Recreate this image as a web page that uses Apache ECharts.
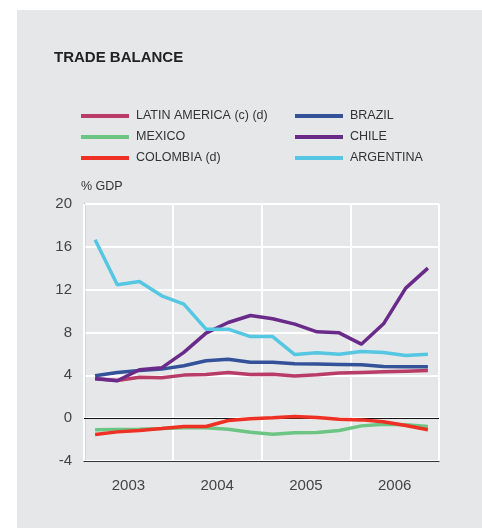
<!DOCTYPE html>
<html>
<head>
<meta charset="utf-8">
<script src="https://cdn.jsdelivr.net/npm/echarts@6/dist/echarts.min.js"></script>
<style>
  html, body { margin: 0; padding: 0; background: #ffffff; }
  #panel { position: absolute; left: 17px; top: 10px; width: 465px; height: 518px; background: #e6e7e9; }
  #chart { position: absolute; left: 0; top: 0; width: 482px; height: 528px; }
</style>
</head>
<body>
<div id="panel"></div>
<div id="chart"></div>
<script>
const years = ['2003', '2004', '2005', '2006'];
const quarters = ['2003Q1','2003Q2','2003Q3','2003Q4','2004Q1','2004Q2','2004Q3','2004Q4',
                  '2005Q1','2005Q2','2005Q3','2005Q4','2006Q1','2006Q2','2006Q3','2006Q4'];
const yTicks = { min: -4, max: 20, interval: 4 };

const latinAmerica = [3.71, 3.52, 3.83, 3.77, 4.02, 4.08, 4.27, 4.08, 4.11, 3.93, 4.05, 4.21, 4.27, 4.33, 4.39, 4.45];
const mexico       = [-1.09, -1.06, -1.03, -0.97, -0.90, -0.90, -1.03, -1.31, -1.50, -1.37, -1.34, -1.15, -0.72, -0.56, -0.62, -0.78];
const colombia     = [-1.53, -1.28, -1.15, -0.97, -0.78, -0.78, -0.22, -0.06, 0.03, 0.16, 0.06, -0.09, -0.16, -0.34, -0.69, -1.09];
const brazil       = [3.96, 4.27, 4.45, 4.58, 4.89, 5.36, 5.51, 5.23, 5.23, 5.08, 5.05, 5.02, 4.98, 4.83, 4.80, 4.80];
const chile        = [3.68, 3.49, 4.52, 4.70, 6.15, 7.94, 8.93, 9.59, 9.28, 8.78, 8.06, 7.97, 6.91, 8.81, 12.14, 14.01];
const argentina    = [16.67, 12.46, 12.77, 11.43, 10.65, 8.31, 8.31, 7.62, 7.62, 5.94, 6.10, 5.97, 6.22, 6.13, 5.85, 5.97];

const names = ['LATIN AMERICA (c) (d)', 'MEXICO', 'COLOMBIA (d)', 'BRAZIL', 'CHILE', 'ARGENTINA'];
const colors = ['#b83c66', '#6cc583', '#ee3124', '#34529a', '#6a2a8a', '#55c7e2'];
const values = [latinAmerica, mexico, colombia, brazil, chile, argentina];

const FONT = 'Liberation Sans, Arial, Helvetica, sans-serif';

const series = names.map((n, i) => ({
  name: n,
  type: 'line',
  xAxisIndex: 1,
  yAxisIndex: 0,
  data: values[i],
  symbol: 'none',
  smooth: false,
  lineStyle: { width: 3.5, color: colors[i] },
  itemStyle: { color: colors[i] },
  z: 3 + i
}));
series[0].markLine = {
  silent: true,
  symbol: 'none',
  label: { show: false },
  lineStyle: { color: '#111', width: 1, type: 'solid' },
  data: [{ yAxis: 0 }],
  z: 2
};

const legendCommon = {
  orient: 'vertical',
  icon: 'rect',
  itemWidth: 48,
  itemHeight: 4,
  itemGap: 7,
  padding: 0,
  textStyle: { fontFamily: FONT, fontSize: 12.5, color: '#333', lineHeight: 14, padding: [0, 0, 0, 2] },
  selectedMode: false
};

const chart = echarts.init(document.getElementById('chart'), null, { renderer: 'canvas' });
chart.setOption({
  animation: false,
  backgroundColor: 'transparent',
  color: colors,
  title: {
    text: 'TRADE BALANCE',
    left: 54,
    top: 50,
    padding: 0,
    textStyle: { fontFamily: FONT, fontSize: 15, fontWeight: 'bold', color: '#222' }
  },
  legend: [
    Object.assign({}, legendCommon, { left: 81, top: 109, data: names.slice(0, 3) }),
    Object.assign({}, legendCommon, { left: 295, top: 109, data: names.slice(3) })
  ],
  grid: { left: 84, right: 43, top: 204, bottom: 67, containLabel: false },
  xAxis: [
    {
      type: 'category',
      data: years,
      boundaryGap: true,
      position: 'bottom',
      axisLine: { show: true, onZero: false, lineStyle: { color: '#333', width: 1.2 } },
      axisTick: { show: false },
      axisLabel: { fontFamily: FONT, fontSize: 15, color: '#444', margin: 17 },
      splitLine: { show: true, lineStyle: { color: '#ffffff', width: 2 } },
      z: 1
    },
    {
      type: 'category',
      data: quarters,
      boundaryGap: true,
      show: false
    }
  ],
  yAxis: [{
    type: 'value',
    min: yTicks.min,
    max: yTicks.max,
    interval: yTicks.interval,
    name: '% GDP',
    nameLocation: 'end',
    nameGap: 11,
    nameTextStyle: { fontFamily: FONT, fontSize: 12.5, color: '#333', align: 'left', padding: [0, 0, 0, -3] },
    axisLine: { show: true, lineStyle: { color: '#333', width: 1.2 } },
    axisTick: { show: false },
    axisLabel: { fontFamily: FONT, fontSize: 15, color: '#444', margin: 12 },
    splitLine: { show: true, lineStyle: { color: '#ffffff', width: 2 } }
  }],
  series: series
});
</script>
</body>
</html>
